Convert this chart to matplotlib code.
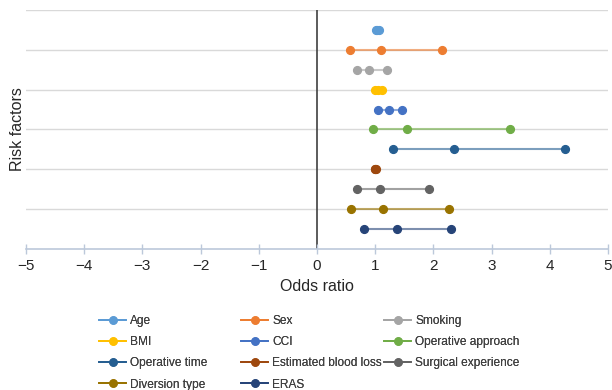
import matplotlib
matplotlib.use('Agg')
import matplotlib.pyplot as plt
from matplotlib.lines import Line2D

plt.rcParams['font.family'] = ['Liberation Sans', 'DejaVu Sans']

# risk factors, top to bottom
factors = ['Age', 'Sex', 'Smoking', 'BMI', 'CCI', 'Operative approach',
           'Operative time', 'Estimated blood loss', 'Surgical experience',
           'Diversion type', 'ERAS']
lower = [1.01, 0.57, 0.68, 1.00, 1.04, 0.97, 1.31, 1.00, 0.68, 0.58, 0.81]
odds = [1.03, 1.10, 0.90, 1.05, 1.24, 1.54, 2.35, 1.00, 1.08, 1.14, 1.37]
upper = [1.06, 2.14, 1.21, 1.12, 1.46, 3.32, 4.26, 1.01, 1.92, 2.27, 2.31]
y_pos = [11, 10, 9, 8, 7, 6, 5, 4, 3, 2, 1]
colors = ['#5B9BD5', '#ED7D31', '#A5A5A5', '#FFC000', '#4472C4', '#70AD47',
          '#255E91', '#9E480E', '#636363', '#997300', '#264478']

fig = plt.figure(figsize=(6.12, 3.9), dpi=100)
ax = fig.add_axes([26 / 612, 1 - 249 / 390, 582 / 612, 239 / 390])

ax.set_xlim(-5, 5)
ax.set_ylim(0, 12)
for gy in range(2, 13, 2):
    ax.axhline(gy, color='#D9D9D9', lw=1, zorder=0)
ax.axvline(0, color='#404040', lw=1.2, zorder=1)

handles = []
for name, lo, mid, hi, y, c in zip(factors, lower, odds, upper, y_pos, colors):
    ax.plot([lo, mid, hi], [y] * 3, color=c, lw=1.5, alpha=0.6, zorder=2)
    ax.plot([lo, mid, hi], [y] * 3, 'o', color=c, ms=5.6, zorder=3, lw=0)
    handles.append(Line2D([0], [0], color=c, lw=1.3, marker='o', ms=5.2,
                          markeredgecolor=c, label=name))

for s in ['top', 'right', 'left']:
    ax.spines[s].set_visible(False)
ax.spines['bottom'].set_color('#BCC8DA')
ax.spines['bottom'].set_linewidth(1.2)
ax.set_yticks([])
ax.set_xticks(range(-5, 6))
ax.set_xticklabels([str(v).replace('-', '\u2212') for v in range(-5, 6)])
ax.tick_params(axis='x', direction='inout', length=7, color='#BCC8DA', width=1,
               labelsize=11, labelcolor='#262626', pad=3.5)
ax.set_xlabel('Odds ratio', fontsize=11.5, color='#262626', labelpad=4.5)
ax.set_ylabel('Risk factors', fontsize=11.5, color='#262626')
ax.yaxis.set_label_coords(-1 / 582, 0.5)

# legend: three columns, Excel row-major order
col_x = [93, 235, 378]
for col in range(3):
    idx = list(range(col, len(factors), 3))
    leg = fig.legend([handles[i] for i in idx], [factors[i] for i in idx],
                     loc='upper left', bbox_to_anchor=(col_x[col] / 612, 1 - 309 / 390),
                     frameon=False, fontsize=8.6, handlelength=2.3, handletextpad=0.3,
                     labelspacing=0.77, borderpad=0)
    for t in leg.get_texts():
        t.set_color('#404040')
    fig.add_artist(leg)

fig.savefig('out.png', dpi=100, facecolor='white')
